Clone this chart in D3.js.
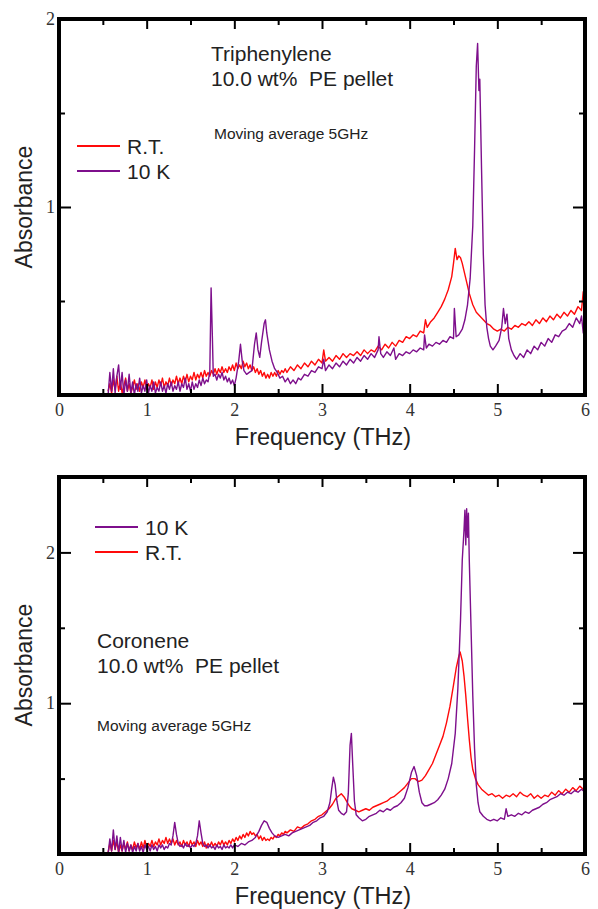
<!DOCTYPE html>
<html>
<head>
<meta charset="utf-8">
<script src="https://cdn.jsdelivr.net/npm/d3@7"></script>
<style>
  body { margin: 0; background: #fff; }
  svg { display: block; }
</style>
</head>
<body>
<svg id="drawing"></svg>
<script>
// tick values / labels
const xMajor = [0, 1, 2, 3, 4, 5, 6];
const xMinor = [0.5, 1.5, 2.5, 3.5, 4.5, 5.5];
const yMajor = [1, 2];
const yMinor = [0.5, 1.5];

// Triphenylene, R.T.  [THz, absorbance]
const triphRT = [
  [0.56,0.02],[0.58,0.06],[0.60,0.01],[0.62,0.08],[0.64,0.03],[0.66,0.10],[0.68,0.02],[0.70,0.07],[0.72,0.01],[0.74,0.05],
  [0.76,0.09],[0.78,0.02],[0.80,0.06],[0.82,0.01],[0.84,0.04],[0.86,0.08],[0.88,0.03],[0.90,0.06],[0.92,0.02],[0.94,0.07],
  [0.96,0.04],[0.98,0.08],[1.00,0.03],[1.02,0.06],[1.04,0.04],[1.06,0.08],[1.08,0.03],[1.10,0.07],[1.12,0.04],[1.14,0.08],
  [1.16,0.05],[1.18,0.09],[1.20,0.04],[1.22,0.07],[1.24,0.05],[1.26,0.09],[1.28,0.05],[1.30,0.08],[1.32,0.06],[1.34,0.10],
  [1.36,0.06],[1.38,0.09],[1.40,0.06],[1.42,0.10],[1.44,0.07],[1.46,0.11],[1.48,0.07],[1.50,0.10],[1.52,0.08],[1.54,0.12],
  [1.56,0.08],[1.58,0.11],[1.60,0.09],[1.62,0.12],[1.64,0.09],[1.66,0.13],[1.68,0.10],[1.70,0.12],[1.72,0.10],[1.74,0.13],
  [1.76,0.11],[1.78,0.14],[1.80,0.11],[1.82,0.14],[1.84,0.12],[1.86,0.15],[1.88,0.12],[1.90,0.14],[1.92,0.12],[1.94,0.15],
  [1.96,0.13],[1.98,0.16],[2.00,0.13],[2.02,0.17],[2.04,0.14],[2.06,0.16],[2.08,0.14],[2.10,0.18],[2.12,0.15],[2.14,0.17],
  [2.16,0.14],[2.18,0.16],[2.20,0.13],[2.22,0.15],[2.24,0.12],[2.26,0.14],[2.28,0.11],[2.30,0.13],[2.32,0.10],[2.34,0.12],
  [2.36,0.09],[2.38,0.11],[2.40,0.09],[2.42,0.12],[2.44,0.10],[2.46,0.12],[2.48,0.10],[2.50,0.13],[2.52,0.11],[2.54,0.13],
  [2.56,0.12],[2.58,0.14],[2.60,0.12],[2.64,0.15],[2.68,0.13],[2.72,0.16],[2.76,0.14],[2.80,0.17],[2.84,0.15],[2.88,0.18],
  [2.92,0.16],[2.96,0.19],[3.00,0.17],[3.02,0.24],[3.04,0.18],[3.08,0.20],[3.12,0.18],[3.16,0.21],[3.20,0.19],[3.24,0.22],
  [3.28,0.20],[3.32,0.22],[3.36,0.21],[3.40,0.23],[3.44,0.21],[3.48,0.24],[3.52,0.22],[3.56,0.24],[3.60,0.23],[3.64,0.26],
  [3.68,0.24],[3.72,0.27],[3.76,0.25],[3.80,0.28],[3.84,0.26],[3.88,0.29],[3.92,0.28],[3.96,0.31],[4.00,0.30],[4.04,0.32],
  [4.08,0.31],[4.12,0.34],[4.16,0.33],[4.18,0.40],[4.20,0.36],[4.24,0.39],[4.28,0.41],[4.32,0.44],[4.36,0.47],[4.40,0.51],
  [4.44,0.56],[4.48,0.63],[4.50,0.70],[4.52,0.78],[4.54,0.72],[4.56,0.74],[4.58,0.73],[4.60,0.70],[4.62,0.66],[4.64,0.62],
  [4.66,0.58],[4.68,0.54],[4.70,0.51],[4.72,0.48],[4.74,0.46],[4.76,0.44],[4.80,0.42],[4.84,0.40],[4.88,0.38],[4.92,0.37],
  [4.96,0.35],[5.00,0.34],[5.04,0.35],[5.08,0.34],[5.12,0.36],[5.16,0.35],[5.20,0.37],[5.24,0.36],[5.28,0.38],[5.32,0.37],
  [5.36,0.39],[5.40,0.37],[5.44,0.40],[5.48,0.38],[5.52,0.41],[5.56,0.39],[5.60,0.42],[5.64,0.40],[5.68,0.43],[5.72,0.41],
  [5.76,0.44],[5.80,0.42],[5.84,0.45],[5.88,0.43],[5.92,0.47],[5.96,0.45],[5.98,0.55],[6.00,0.48]
];

// Triphenylene, 10 K
const triph10K = [
  [0.56,0.00],[0.58,0.12],[0.60,0.02],[0.62,0.14],[0.64,0.01],[0.66,0.10],[0.68,0.16],[0.70,0.03],[0.72,0.12],[0.74,0.00],
  [0.76,0.08],[0.78,0.02],[0.80,0.11],[0.82,0.01],[0.84,0.07],[0.86,0.00],[0.88,0.06],[0.90,0.02],[0.92,0.09],[0.94,0.01],
  [0.96,0.05],[0.98,0.02],[1.00,0.08],[1.02,0.01],[1.04,0.05],[1.06,0.02],[1.08,0.07],[1.10,0.01],[1.12,0.04],[1.14,0.02],
  [1.16,0.07],[1.18,0.02],[1.20,0.05],[1.22,0.01],[1.24,0.06],[1.26,0.03],[1.28,0.07],[1.30,0.02],[1.32,0.05],[1.34,0.03],
  [1.36,0.07],[1.38,0.02],[1.40,0.06],[1.42,0.04],[1.44,0.09],[1.46,0.03],[1.48,0.06],[1.50,0.02],[1.52,0.07],[1.54,0.03],
  [1.56,0.06],[1.58,0.04],[1.60,0.08],[1.62,0.05],[1.64,0.09],[1.66,0.06],[1.68,0.08],[1.70,0.07],[1.72,0.12],[1.735,0.57],
  [1.75,0.30],[1.76,0.10],[1.78,0.11],[1.80,0.08],[1.82,0.11],[1.84,0.09],[1.86,0.12],[1.88,0.08],[1.90,0.10],[1.92,0.07],
  [1.94,0.09],[1.96,0.06],[1.98,0.08],[2.00,0.05],[2.02,0.09],[2.05,0.18],[2.07,0.27],[2.09,0.18],[2.11,0.13],[2.14,0.11],
  [2.17,0.12],[2.20,0.13],[2.23,0.27],[2.25,0.33],[2.27,0.24],[2.29,0.20],[2.31,0.28],[2.34,0.38],[2.355,0.40],[2.37,0.33],
  [2.40,0.24],[2.43,0.18],[2.46,0.14],[2.49,0.12],[2.52,0.09],[2.55,0.10],[2.58,0.07],[2.61,0.09],[2.64,0.06],[2.67,0.08],
  [2.70,0.06],[2.73,0.09],[2.76,0.08],[2.80,0.11],[2.84,0.10],[2.88,0.13],[2.92,0.12],[2.96,0.15],[3.00,0.14],[3.02,0.19],
  [3.04,0.13],[3.08,0.16],[3.12,0.14],[3.16,0.17],[3.20,0.15],[3.24,0.18],[3.28,0.16],[3.32,0.19],[3.36,0.17],[3.40,0.20],
  [3.44,0.18],[3.48,0.21],[3.52,0.19],[3.56,0.22],[3.60,0.20],[3.64,0.24],[3.65,0.31],[3.67,0.22],[3.70,0.20],[3.74,0.23],
  [3.78,0.21],[3.82,0.25],[3.84,0.19],[3.88,0.22],[3.92,0.21],[3.96,0.23],[4.00,0.22],[4.04,0.24],[4.08,0.23],[4.12,0.25],
  [4.16,0.24],[4.17,0.32],[4.19,0.25],[4.22,0.27],[4.26,0.26],[4.30,0.28],[4.34,0.27],[4.38,0.29],[4.42,0.28],[4.46,0.31],
  [4.50,0.30],[4.51,0.46],[4.53,0.31],[4.56,0.32],[4.60,0.35],[4.63,0.40],[4.66,0.48],[4.69,0.62],[4.72,0.90],[4.74,1.30],
  [4.76,1.75],[4.775,1.87],[4.79,1.62],[4.80,1.68],[4.82,1.20],[4.84,0.75],[4.86,0.48],[4.88,0.36],[4.90,0.30],[4.92,0.26],
  [4.95,0.24],[4.98,0.26],[5.02,0.29],[5.05,0.36],[5.07,0.46],[5.09,0.38],[5.11,0.43],[5.13,0.30],[5.16,0.24],[5.19,0.21],
  [5.22,0.19],[5.26,0.22],[5.30,0.20],[5.34,0.24],[5.38,0.22],[5.42,0.26],[5.46,0.24],[5.50,0.28],[5.54,0.26],[5.58,0.30],
  [5.62,0.28],[5.66,0.32],[5.70,0.31],[5.74,0.34],[5.78,0.35],[5.82,0.38],[5.86,0.36],[5.90,0.41],[5.94,0.38],[5.96,0.42],
  [5.98,0.33],[6.00,0.39]
];

// Coronene, R.T.
const coronRT = [
  [0.56,0.01],[0.58,0.07],[0.60,0.02],[0.62,0.09],[0.64,0.03],[0.66,0.08],[0.68,0.01],[0.70,0.06],[0.72,0.02],[0.74,0.07],
  [0.76,0.03],[0.78,0.08],[0.80,0.02],[0.82,0.06],[0.84,0.03],[0.86,0.08],[0.88,0.04],[0.90,0.07],[0.92,0.03],[0.94,0.08],
  [0.96,0.04],[0.98,0.09],[1.00,0.04],[1.02,0.07],[1.04,0.05],[1.06,0.09],[1.08,0.05],[1.10,0.08],[1.12,0.06],[1.14,0.10],
  [1.16,0.06],[1.18,0.09],[1.20,0.07],[1.22,0.11],[1.24,0.07],[1.26,0.10],[1.28,0.07],[1.30,0.10],[1.32,0.06],[1.34,0.09],
  [1.36,0.06],[1.38,0.08],[1.40,0.05],[1.42,0.09],[1.44,0.06],[1.46,0.08],[1.48,0.05],[1.50,0.09],[1.52,0.06],[1.54,0.08],
  [1.56,0.05],[1.58,0.09],[1.60,0.06],[1.62,0.08],[1.64,0.05],[1.66,0.08],[1.68,0.04],[1.70,0.07],[1.72,0.05],[1.74,0.08],
  [1.76,0.05],[1.78,0.07],[1.80,0.05],[1.82,0.08],[1.84,0.06],[1.86,0.09],[1.88,0.06],[1.90,0.08],[1.92,0.06],[1.94,0.09],
  [1.96,0.07],[1.98,0.10],[2.00,0.08],[2.02,0.11],[2.04,0.09],[2.06,0.12],[2.08,0.10],[2.10,0.13],[2.12,0.11],[2.14,0.14],
  [2.16,0.12],[2.18,0.15],[2.20,0.13],[2.22,0.14],[2.24,0.12],[2.26,0.13],[2.28,0.10],[2.30,0.12],[2.32,0.09],[2.34,0.11],
  [2.36,0.09],[2.38,0.10],[2.40,0.09],[2.42,0.11],[2.44,0.10],[2.46,0.12],[2.48,0.11],[2.50,0.13],[2.52,0.12],[2.54,0.14],
  [2.56,0.13],[2.58,0.15],[2.60,0.14],[2.64,0.16],[2.68,0.15],[2.72,0.18],[2.76,0.17],[2.80,0.19],[2.84,0.20],[2.88,0.22],
  [2.92,0.23],[2.96,0.25],[3.00,0.26],[3.04,0.28],[3.08,0.30],[3.12,0.33],[3.16,0.37],[3.20,0.39],[3.22,0.40],[3.25,0.38],
  [3.28,0.35],[3.31,0.32],[3.34,0.30],[3.38,0.29],[3.42,0.28],[3.46,0.29],[3.50,0.30],[3.54,0.29],[3.58,0.31],[3.62,0.32],
  [3.66,0.33],[3.70,0.34],[3.74,0.35],[3.78,0.37],[3.82,0.38],[3.86,0.40],[3.90,0.42],[3.94,0.44],[3.98,0.47],[4.02,0.50],
  [4.06,0.50],[4.10,0.48],[4.14,0.49],[4.18,0.52],[4.22,0.56],[4.26,0.60],[4.30,0.66],[4.34,0.72],[4.38,0.78],[4.42,0.87],
  [4.46,0.98],[4.50,1.12],[4.53,1.23],[4.56,1.31],[4.575,1.34],[4.60,1.28],[4.62,1.18],[4.64,1.05],[4.66,0.90],[4.68,0.76],
  [4.70,0.64],[4.72,0.56],[4.75,0.50],[4.78,0.46],[4.82,0.43],[4.86,0.41],[4.90,0.39],[4.94,0.40],[4.98,0.38],[5.02,0.39],
  [5.06,0.37],[5.10,0.39],[5.14,0.38],[5.18,0.40],[5.22,0.38],[5.26,0.41],[5.30,0.39],[5.34,0.38],[5.38,0.40],[5.42,0.37],
  [5.46,0.39],[5.50,0.37],[5.54,0.39],[5.58,0.38],[5.62,0.41],[5.66,0.39],[5.70,0.42],[5.74,0.40],[5.78,0.43],[5.82,0.41],
  [5.86,0.44],[5.90,0.42],[5.94,0.45],[5.98,0.43],[6.00,0.46]
];

// Coronene, 10 K
const coron10K = [
  [0.56,0.00],[0.58,0.10],[0.60,0.02],[0.62,0.16],[0.64,0.03],[0.66,0.12],[0.68,0.01],[0.70,0.11],[0.72,0.02],[0.74,0.09],
  [0.76,0.01],[0.78,0.07],[0.80,0.02],[0.82,0.06],[0.84,0.01],[0.86,0.05],[0.88,0.02],[0.90,0.07],[0.92,0.02],[0.94,0.05],
  [0.96,0.01],[0.98,0.06],[1.00,0.03],[1.02,0.05],[1.04,0.02],[1.06,0.06],[1.08,0.03],[1.10,0.05],[1.12,0.02],[1.14,0.06],
  [1.16,0.04],[1.18,0.06],[1.20,0.03],[1.22,0.05],[1.24,0.04],[1.26,0.07],[1.28,0.06],[1.30,0.12],[1.32,0.21],[1.34,0.13],
  [1.36,0.07],[1.38,0.05],[1.40,0.06],[1.42,0.04],[1.44,0.07],[1.46,0.05],[1.48,0.06],[1.50,0.04],[1.52,0.06],[1.54,0.05],
  [1.56,0.07],[1.58,0.12],[1.60,0.22],[1.62,0.14],[1.64,0.07],[1.66,0.05],[1.68,0.06],[1.70,0.04],[1.72,0.06],[1.74,0.04],
  [1.76,0.05],[1.78,0.03],[1.80,0.06],[1.82,0.04],[1.84,0.05],[1.86,0.03],[1.88,0.06],[1.90,0.04],[1.92,0.05],[1.94,0.04],
  [1.96,0.06],[1.98,0.04],[2.00,0.06],[2.04,0.05],[2.08,0.07],[2.12,0.06],[2.16,0.08],[2.20,0.09],[2.24,0.11],[2.28,0.15],
  [2.31,0.19],[2.34,0.22],[2.37,0.21],[2.40,0.17],[2.43,0.14],[2.46,0.12],[2.50,0.11],[2.54,0.12],[2.58,0.13],[2.62,0.12],
  [2.66,0.14],[2.70,0.15],[2.74,0.16],[2.78,0.17],[2.82,0.18],[2.86,0.19],[2.90,0.21],[2.94,0.22],[2.98,0.24],[3.02,0.25],
  [3.06,0.28],[3.09,0.34],[3.11,0.43],[3.13,0.51],[3.15,0.46],[3.17,0.35],[3.19,0.29],[3.22,0.27],[3.25,0.26],[3.28,0.28],
  [3.30,0.40],[3.32,0.72],[3.335,0.80],[3.35,0.60],[3.37,0.35],[3.39,0.26],[3.42,0.24],[3.46,0.22],[3.50,0.23],[3.54,0.25],
  [3.58,0.26],[3.62,0.27],[3.66,0.29],[3.70,0.28],[3.74,0.30],[3.78,0.29],[3.82,0.31],[3.86,0.32],[3.90,0.34],[3.94,0.37],
  [3.98,0.44],[4.02,0.54],[4.05,0.58],[4.08,0.52],[4.11,0.41],[4.14,0.34],[4.17,0.32],[4.20,0.32],[4.24,0.33],[4.28,0.34],
  [4.32,0.36],[4.36,0.39],[4.40,0.43],[4.44,0.50],[4.48,0.60],[4.52,0.80],[4.55,1.10],[4.58,1.55],[4.60,1.95],[4.62,2.15],
  [4.63,2.28],[4.64,2.05],[4.65,2.29],[4.66,2.10],[4.67,2.26],[4.68,1.95],[4.70,1.50],[4.72,1.05],[4.74,0.70],[4.76,0.46],
  [4.78,0.34],[4.80,0.28],[4.84,0.25],[4.88,0.23],[4.92,0.22],[4.96,0.23],[5.00,0.22],[5.04,0.24],[5.08,0.23],[5.10,0.30],
  [5.12,0.25],[5.16,0.26],[5.20,0.25],[5.24,0.27],[5.28,0.26],[5.32,0.28],[5.36,0.27],[5.40,0.29],[5.44,0.30],[5.48,0.31],
  [5.52,0.33],[5.56,0.34],[5.60,0.36],[5.64,0.37],[5.68,0.38],[5.72,0.40],[5.76,0.39],[5.80,0.41],[5.84,0.40],[5.88,0.42],
  [5.92,0.41],[5.96,0.43],[6.00,0.41]
];

const RED = "#ff0a0a";
const PURPLE = "#7e0f8c";

const svg = d3.select("#drawing")
    .attr("width", 598)
    .attr("height", 909);

class SpectrumPanel {
    constructor( config, series ) {
        this.config = config;
        this.series = series;
        this.init();
        this.render();
    }

    init() {
        let self = this;
        const c = self.config;
        self.xscale = d3.scaleLinear().domain([0, 6]).range([c.left, c.right]);
        self.yscale = d3.scaleLinear().domain([0, c.ymax]).range([c.bottom, c.top]);
        self.g = svg.append("g");

        self.g.append("clipPath").attr("id", c.id + "-clip")
          .append("rect")
            .attr("x", c.left).attr("y", c.top)
            .attr("width", c.right - c.left).attr("height", c.bottom - c.top);
    }

    render() {
        let self = this;
        const c = self.config;

        const line = d3.line()
            .x(d => self.xscale(d[0]))
            .y(d => self.yscale(d[1]));

        self.g.append("g")
            .attr("clip-path", `url(#${c.id}-clip)`)
          .selectAll("path")
          .data(self.series)
          .enter()
          .append("path")
            .attr("d", d => line(d.values))
            .attr("fill", "none")
            .attr("stroke", d => d.color)
            .attr("stroke-width", 1.4)
            .attr("stroke-linejoin", "round");

        // axes: inward ticks on all four sides
        const addAxis = (axis, transform, labels) => {
            const grp = self.g.append("g")
                .attr("transform", transform)
                .call(axis);
            grp.select(".domain").remove();
            grp.selectAll(".tick line").attr("stroke", "#000").attr("stroke-width", 2);
            grp.selectAll(".tick text")
                .attr("font-family", "'Liberation Serif', 'Times New Roman', serif")
                .attr("font-size", 18)
                .attr("fill", "#333");
            if (!labels) grp.selectAll(".tick text").remove();
            return grp;
        };

        addAxis(d3.axisBottom(self.xscale).tickValues(xMajor).tickSize(-11).tickPadding(8).tickFormat(d3.format("d")),
            `translate(0,${c.bottom})`, true);
        addAxis(d3.axisBottom(self.xscale).tickValues(xMinor).tickSize(-6),
            `translate(0,${c.bottom})`, false);
        addAxis(d3.axisTop(self.xscale).tickValues(xMajor).tickSize(-10),
            `translate(0,${c.top})`, false);
        addAxis(d3.axisTop(self.xscale).tickValues(xMinor).tickSize(-6),
            `translate(0,${c.top})`, false);
        addAxis(d3.axisLeft(self.yscale).tickValues(yMajor).tickSize(-12).tickPadding(4).tickFormat(d3.format("d")),
            `translate(${c.left},0)`, true);
        addAxis(d3.axisLeft(self.yscale).tickValues(yMinor).tickSize(-6),
            `translate(${c.left},0)`, false);
        addAxis(d3.axisRight(self.yscale).tickValues(yMajor).tickSize(-12),
            `translate(${c.right},0)`, false);
        addAxis(d3.axisRight(self.yscale).tickValues(yMinor).tickSize(-6),
            `translate(${c.right},0)`, false);

        // frame
        self.g.append("rect")
            .attr("x", c.left).attr("y", c.top)
            .attr("width", c.right - c.left).attr("height", c.bottom - c.top)
            .attr("fill", "none")
            .attr("stroke", "#000")
            .attr("stroke-width", 4);

        const sans = "'Liberation Sans', Arial, sans-serif";

        self.g.append("text")
            .attr("x", (c.left + c.right) / 2 + 1)
            .attr("y", c.bottom + 50)
            .attr("text-anchor", "middle")
            .attr("font-family", sans)
            .attr("font-size", 23.5)
            .attr("fill", "#222")
            .text("Frequency (THz)");

        self.g.append("text")
            .attr("transform", `translate(32,${c.labelY}) rotate(-90)`)
            .attr("text-anchor", "middle")
            .attr("font-family", sans)
            .attr("font-size", 23)
            .attr("fill", "#222")
            .text("Absorbance");

        // sample description
        c.notes.forEach(n => {
            self.g.append("text")
                .attr("x", n.x).attr("y", n.y)
                .attr("font-family", sans)
                .attr("font-size", n.size)
                .attr("fill", "#222")
                .style("white-space", "pre")
                .text(n.text);
        });

        // legend
        const legend = self.g.selectAll(".legend")
            .data(c.legend)
            .enter()
            .append("g");
        legend.append("line")
            .attr("x1", d => d.x).attr("x2", d => d.x + 43)
            .attr("y1", d => d.y).attr("y2", d => d.y)
            .attr("stroke", d => d.color)
            .attr("stroke-width", 2);
        legend.append("text")
            .attr("x", d => d.x + 50)
            .attr("y", d => d.y + 8)
            .attr("font-family", sans)
            .attr("font-size", 21)
            .attr("fill", "#222")
            .text(d => d.label);
    }
}

new SpectrumPanel({
    id: "triph", top: 19, bottom: 395, left: 59, right: 585, ymax: 2, labelY: 207,
    notes: [
        {text: "Triphenylene", x: 211, y: 61, size: 21},
        {text: "10.0 wt%  PE pellet", x: 211, y: 86, size: 21},
        {text: "Moving average 5GHz", x: 214, y: 139, size: 15.5}
    ],
    legend: [
        {label: "R.T.", color: RED, x: 77, y: 146},
        {label: "10 K", color: PURPLE, x: 77, y: 171}
    ]
}, [
    {name: "R.T.", color: RED, values: triphRT},
    {name: "10 K", color: PURPLE, values: triph10K}
]);

new SpectrumPanel({
    id: "coron", top: 477, bottom: 854, left: 59, right: 585, ymax: 2.5, labelY: 665,
    notes: [
        {text: "Coronene", x: 97, y: 648, size: 21},
        {text: "10.0 wt%  PE pellet", x: 97, y: 673, size: 21},
        {text: "Moving average 5GHz", x: 97, y: 731, size: 15.5}
    ],
    legend: [
        {label: "10 K", color: PURPLE, x: 95, y: 527},
        {label: "R.T.", color: RED, x: 95, y: 552}
    ]
}, [
    {name: "R.T.", color: RED, values: coronRT},
    {name: "10 K", color: PURPLE, values: coron10K}
]);
</script>
</body>
</html>
